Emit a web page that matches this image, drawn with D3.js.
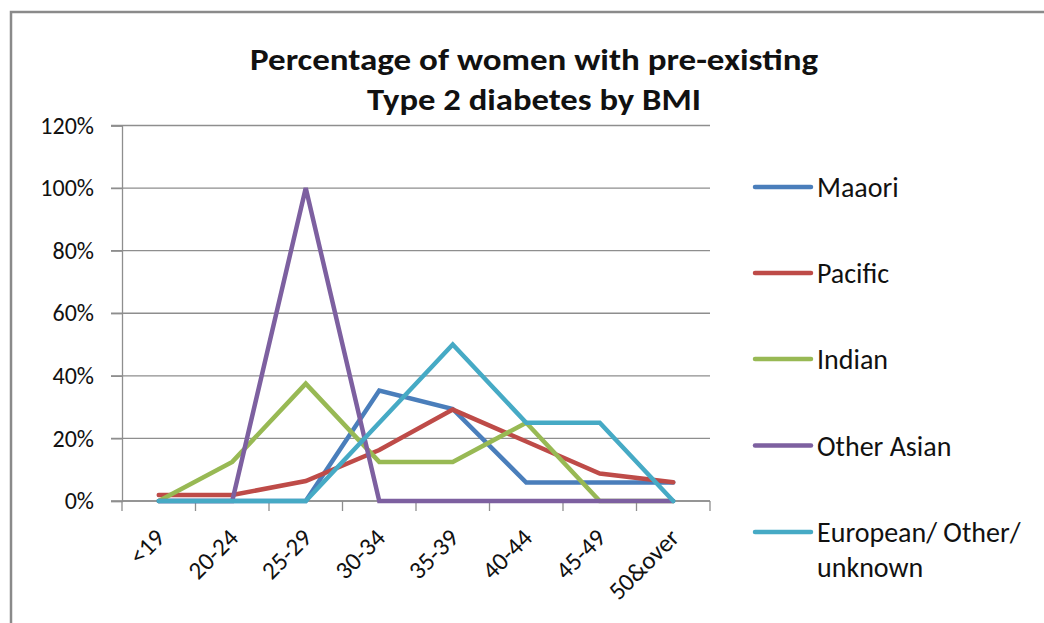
<!DOCTYPE html>
<html>
<head>
<meta charset="utf-8">
<script src="https://cdn.jsdelivr.net/npm/d3@7"></script>
<style>
  html, body { margin: 0; padding: 0; background: #fff; }
  svg { display: block; font-family: Carlito, Calibri, Lato, sans-serif; }
</style>
</head>
<body>
<svg id="chart" width="1044" height="623"></svg>
<script>
// BMI bands (x categories)
const categories = ["<19", "20-24", "25-29", "30-34", "35-39", "40-44", "45-49", "50&over"];

// Percentage of women with pre-existing Type 2 diabetes, by ethnic group
const maaori      = [0, 0, 0, 35.3, 29.4, 5.9, 5.9, 5.9];
const pacific     = [1.9, 1.9, 6.4, 16.3, 29.2, 19.0, 8.8, 6.0];
const indian      = [0, 12.5, 37.5, 12.5, 12.5, 25.0, 0, 0];
const otherAsian  = [0, 0, 100, 0, 0, 0, 0, 0];
const european    = [0, 0, 0, 25.0, 50.0, 25.0, 25.0, 0];

const seriesNames = ["Maaori", "Pacific", "Indian", "Other Asian", "European/ Other/ unknown"];
const yTicks = [0, 20, 40, 60, 80, 100, 120];
const titleLines = ["Percentage of women with pre-existing", "Type 2 diabetes by BMI"];

const seriesValues = [maaori, pacific, indian, otherAsian, european];
const colors = ["#4A7EBB", "#BE4B48", "#98B954", "#7D60A0", "#46AAC5"];

const svg = d3.select("#chart");

// outer chart frame
svg.append("path")
  .attr("d", "M11,623 V12 H1044")
  .attr("fill", "none")
  .attr("stroke", "#8a8a8a")
  .attr("stroke-width", 2.5);

const plot = { left: 122, right: 710, top: 125.5, bottom: 501 };

const x = d3.scaleBand().domain(categories).range([plot.left, plot.right]).padding(0);
const y = d3.scaleLinear().domain([0, 120]).range([plot.bottom, plot.top]);

// horizontal gridlines
svg.append("g")
  .selectAll("line")
  .data(yTicks)
  .join("line")
  .attr("x1", plot.left - 11)
  .attr("x2", plot.right)
  .attr("y1", d => y(d))
  .attr("y2", d => y(d))
  .attr("stroke", "#8e8e8e")
  .attr("stroke-width", 1.3);

// y axis
const yAxis = svg.append("g")
  .attr("transform", `translate(${plot.left},0)`)
  .call(d3.axisLeft(y).tickValues(yTicks).tickFormat(d => d + "%").tickSize(11).tickPadding(17));
yAxis.select(".domain").attr("stroke", "#8e8e8e").attr("stroke-width", 1.3);
yAxis.selectAll(".tick line").attr("stroke", "#8e8e8e").attr("stroke-width", 1.3);
yAxis.selectAll(".tick text")
  .attr("font-family", "Carlito, Calibri, Lato, sans-serif")
  .attr("font-size", 24)
  .attr("fill", "#111");

// x axis with ticks at band boundaries
const xAxisG = svg.append("g");
xAxisG.append("line")
  .attr("x1", plot.left).attr("x2", plot.right)
  .attr("y1", plot.bottom).attr("y2", plot.bottom)
  .attr("stroke", "#8e8e8e").attr("stroke-width", 1.3);
const boundaries = categories.map(c => x(c)).concat([x(categories[categories.length - 1]) + x.bandwidth()]);
xAxisG.selectAll("line.tk")
  .data(boundaries)
  .join("line")
  .attr("class", "tk")
  .attr("x1", d => d).attr("x2", d => d)
  .attr("y1", plot.bottom).attr("y2", plot.bottom + 10)
  .attr("stroke", "#8e8e8e").attr("stroke-width", 1.3);
xAxisG.selectAll("text")
  .data(categories)
  .join("text")
  .attr("transform", d => `translate(${x(d) + x.bandwidth() / 2 - 5},${plot.bottom + 26}) rotate(-45)`)
  .attr("text-anchor", "end")
  .attr("dy", "0.7em")
  .attr("font-size", 25)
  .attr("fill", "#111")
  .text(d => d);

// series lines
const line = d3.line()
  .x((d, i) => x(categories[i]) + x.bandwidth() / 2)
  .y(d => y(d));

svg.append("g")
  .selectAll("path")
  .data(seriesValues)
  .join("path")
  .attr("d", d => line(d))
  .attr("fill", "none")
  .attr("stroke", (d, i) => colors[i])
  .attr("stroke-width", 4.5)
  .attr("stroke-linecap", "round")
  .attr("stroke-linejoin", "miter");

// title
const title = svg.append("g").attr("font-weight", "bold").attr("fill", "#111");
title.append("text")
  .attr("x", 534).attr("y", 70)
  .attr("text-anchor", "middle")
  .attr("font-size", 31)
  .attr("textLength", 568)
  .attr("lengthAdjust", "spacingAndGlyphs")
  .text(titleLines[0]);
title.append("text")
  .attr("x", 534).attr("y", 110)
  .attr("text-anchor", "middle")
  .attr("font-size", 31)
  .attr("textLength", 334)
  .attr("lengthAdjust", "spacingAndGlyphs")
  .text(titleLines[1]);

// legend
const legendY = [187, 273, 359, 445.5, 532];
const legend = svg.append("g");
seriesNames.forEach((name, i) => {
  legend.append("line")
    .attr("x1", 755).attr("x2", 811)
    .attr("y1", legendY[i]).attr("y2", legendY[i])
    .attr("stroke", colors[i])
    .attr("stroke-width", 4.5)
    .attr("stroke-linecap", "round");
  const t = legend.append("text")
    .attr("x", 817)
    .attr("y", legendY[i])
    .attr("dy", "0.36em")
    .attr("font-size", 28)
    .attr("fill", "#111");
  if (i === 4) {
    t.append("tspan").attr("x", 817).text("European/ Other/");
    t.append("tspan").attr("x", 817).attr("dy", "1.25em").text("unknown");
  } else {
    t.text(name);
  }
});
</script>
</body>
</html>
